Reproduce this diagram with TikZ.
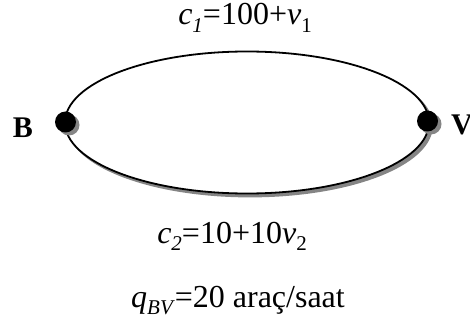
\documentclass[tikz,border=0pt]{standalone}
\usepackage{fontspec}
\setmainfont{Liberation Serif}
\newcommand{\mysub}[1]{\raisebox{-0.22em}{\fontsize{21}{21}\selectfont #1}}
\begin{document}
\begin{tikzpicture}[x=1pt,y=-1pt,
  lbl/.style={inner sep=0pt,anchor=base,font=\fontsize{32}{38}\selectfont},
  dot/.style={circle,fill=black,inner sep=0pt,minimum size=21pt},
  shadowdot/.style={circle,fill=black!48,inner sep=0pt,minimum size=21pt},
  linkline/.style={line width=1.8pt,draw=black,fill=white},
  shadowline/.style={line width=1.8pt,draw=black!48,fill=black!48}]
\useasboundingbox (0,0) rectangle (470,323);
\coordinate (ctr) at (247,122.5);
% shadows
\path[shadowline] ([shift={(3,3)}]ctr) ellipse [x radius=182, y radius=71];
% links
\path[linkline] (ctr) ellipse [x radius=182, y radius=71];
\node[shadowdot] (Bs) at (69,125) {};
\node[shadowdot] (Vs) at (431,124) {};
\node[dot] (B) at (65.5,122) {};
\node[dot] (V) at (427.5,121) {};
% labels
\node[lbl,font=\fontsize{30}{36}\selectfont\bfseries] (Blab) at (23,138) {B};
\node[lbl,font=\fontsize{30}{36}\selectfont\bfseries,anchor=base west] (Vlab) at (451,135) {V};
\node[lbl] (c1) at (245,25) {\textit{c}\mysub{\textit{1}}=100+\textit{v}\mysub{1}};
\node[lbl] (c2) at (232,243) {\textit{c}\mysub{\textit{2}}=10+10\textit{v}\mysub{2}};
\node[lbl] (q) at (238,307) {\textit{q}\mysub{\textit{BV}}=20 araç/saat};
\end{tikzpicture}
\end{document}
